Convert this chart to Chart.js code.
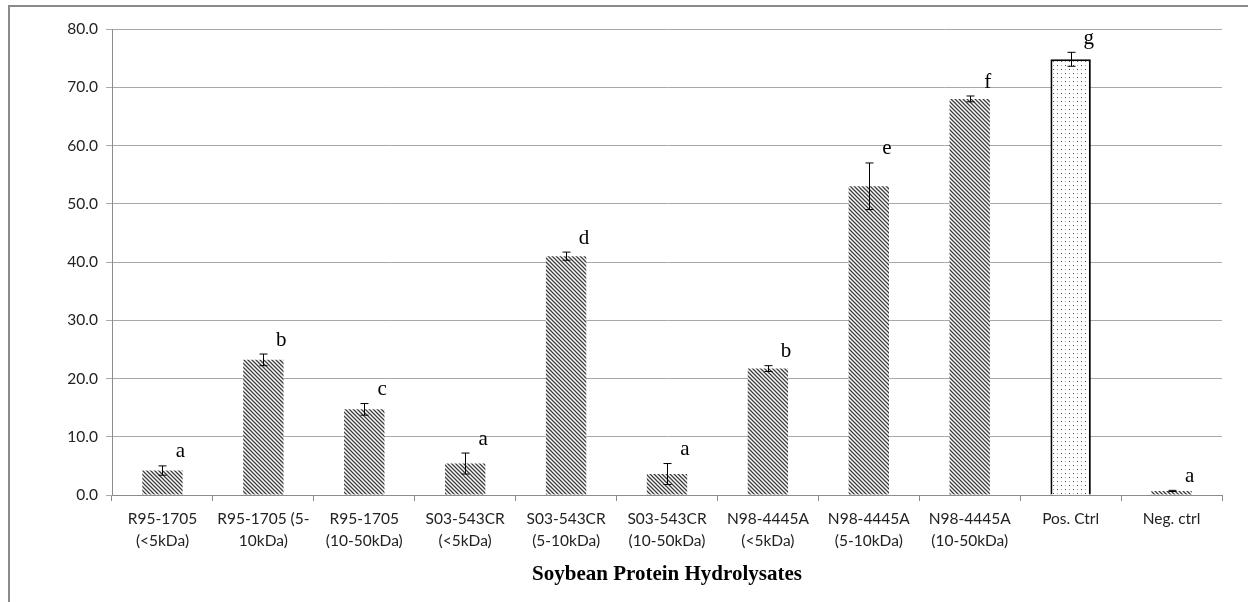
<!DOCTYPE html>
<html lang="en">
<head>
    <meta charset="UTF-8">
    <title>Soybean Protein Hydrolysates</title>
    <script src="https://cdn.jsdelivr.net/npm/chart.js"></script>
    <style>
        html, body { margin: 0; padding: 0; background: #fff; }
        #wrap { position: relative; width: 1248px; height: 602px; }
        #frame { position: absolute; left: 8px; top: 5px; right: -2px; bottom: -2px; border-top: 2px solid #8a8a8a; border-left: 2px solid #8a8a8a; }
    </style>
</head>
<body>
    <div id="wrap">
        <div id="frame"></div>
        <canvas id="hydrolysateChart" width="1248" height="602"></canvas>
    </div>

    <script>
        // data
        const categories = [
            ['R95-1705', '(<5kDa)'],
            ['R95-1705 (5-', '10kDa)'],
            ['R95-1705', '(10-50kDa)'],
            ['S03-543CR', '(<5kDa)'],
            ['S03-543CR', '(5-10kDa)'],
            ['S03-543CR', '(10-50kDa)'],
            ['N98-4445A', '(<5kDa)'],
            ['N98-4445A', '(5-10kDa)'],
            ['N98-4445A', '(10-50kDa)'],
            'Pos. Ctrl',
            'Neg. ctrl'
        ];
        const values = [4.2, 23.2, 14.7, 5.4, 41.0, 3.6, 21.7, 53.0, 68.0, 74.8, 0.7];
        const errors = [0.8, 1.0, 1.0, 1.8, 0.7, 1.8, 0.5, 4.0, 0.5, 1.2, 0.1];
        const letters = ['a', 'b', 'c', 'a', 'd', 'a', 'b', 'e', 'f', 'g', 'a'];
        const yTicks = [0, 10, 20, 30, 40, 50, 60, 70, 80];

        // fill patterns
        function hatchPattern() {
            const c = document.createElement('canvas');
            c.width = 4; c.height = 4;
            const g = c.getContext('2d');
            g.fillStyle = '#fff';
            g.fillRect(0, 0, 4, 4);
            g.strokeStyle = '#3c3c3c';
            g.lineWidth = 1.3;
            g.beginPath();
            g.moveTo(-1, -1); g.lineTo(5, 5);
            g.moveTo(-1, 3); g.lineTo(1, 5);
            g.moveTo(3, -1); g.lineTo(5, 1);
            g.stroke();
            return g.createPattern(c, 'repeat');
        }
        function dotPattern() {
            const c = document.createElement('canvas');
            c.width = 8; c.height = 8;
            const g = c.getContext('2d');
            g.fillStyle = '#fff';
            g.fillRect(0, 0, 8, 8);
            g.fillStyle = '#444';
            g.fillRect(1, 1, 1, 1);
            g.fillRect(5, 5, 1, 1);
            g.fillStyle = '#aaa';
            g.fillRect(5, 1, 1, 1);
            g.fillRect(1, 5, 1, 1);
            return g.createPattern(c, 'repeat');
        }

        const hatch = hatchPattern();
        const dots = dotPattern();
        const fills = categories.map(c => c === 'Pos. Ctrl' ? dots : hatch);
        const borders = categories.map(c => c === 'Pos. Ctrl' ? 2 : 0);

        // error bars + significance letters
        const errorBarPlugin = {
            id: 'errorBars',
            afterDatasetsDraw(chart) {
                const ctx = chart.ctx;
                const meta = chart.getDatasetMeta(0);
                const y = chart.scales.y;
                ctx.save();
                ctx.strokeStyle = '#000';
                ctx.lineWidth = 1;
                meta.data.forEach((bar, i) => {
                    const x = Math.round(bar.x) + 0.5;
                    const top = y.getPixelForValue(values[i] + errors[i]);
                    const bot = y.getPixelForValue(values[i] - errors[i]);
                    ctx.beginPath();
                    ctx.moveTo(x, top); ctx.lineTo(x, bot);
                    ctx.moveTo(x - 4, top); ctx.lineTo(x + 4, top);
                    ctx.moveTo(x - 4, bot); ctx.lineTo(x + 4, bot);
                    ctx.stroke();

                    ctx.fillStyle = '#000';
                    ctx.font = '21px "Liberation Serif", serif';
                    ctx.textAlign = 'center';
                    ctx.textBaseline = 'middle';
                    ctx.fillText(letters[i], bar.x + 18, top - 14);
                });
                ctx.restore();
            }
        };

        const tickFont = { family: 'Lato, "Open Sans", sans-serif', size: 15.5, lineHeight: 1.42 };

        new Chart(document.getElementById('hydrolysateChart'), {
            type: 'bar',
            data: {
                labels: categories,
                datasets: [{
                    data: values,
                    backgroundColor: fills,
                    borderColor: '#000',
                    borderWidth: borders,
                    categoryPercentage: 1,
                    barPercentage: 0.4
                }]
            },
            options: {
                responsive: false,
                animation: false,
                layout: { padding: { top: 29, right: 26, left: 0, bottom: 15 } },
                plugins: {
                    legend: { display: false },
                    tooltip: { enabled: false }
                },
                scales: {
                    x: {
                        grid: { drawOnChartArea: false, drawTicks: true, tickLength: 6, color: '#8c8c8c' },
                        border: { color: '#8c8c8c', width: 1 },
                        ticks: { font: tickFont, color: '#222', maxRotation: 0, autoSkip: false, padding: 7 },
                        title: {
                            display: true,
                            text: 'Soybean Protein Hydrolysates',
                            font: { family: '"Liberation Serif", serif', size: 21, weight: 'bold' },
                            color: '#000',
                            padding: { top: 0, bottom: 0 }
                        },
                        afterFit: s => { s.height = 92; }
                    },
                    y: {
                        min: 0,
                        max: 80,
                        afterBuildTicks: s => { s.ticks = yTicks.map(v => ({ value: v })); },
                        grid: { color: '#a8a8a8', tickLength: 6 },
                        border: { color: '#8c8c8c', width: 1 },
                        ticks: { font: { family: 'Lato, "Open Sans", sans-serif', size: 15.5 }, color: '#222', padding: 8, callback: v => v.toFixed(1) },
                        afterFit: s => { s.width = 112; }
                    }
                }
            },
            plugins: [errorBarPlugin]
        });
    </script>
</body>
</html>
